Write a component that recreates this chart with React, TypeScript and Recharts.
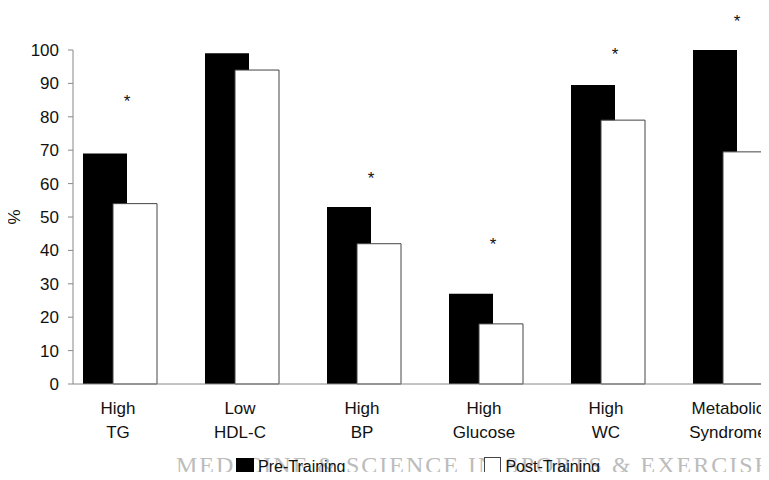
import React from 'react';
import { BarChart, Bar, XAxis, YAxis, LabelList } from 'recharts';

const categories = ['High\nTG', 'Low\nHDL-C', 'High\nBP', 'High\nGlucose', 'High\nWC', 'Metabolic\nSyndrome'];
const preTraining = [69, 99, 53, 27, 89.5, 100];
const postTraining = [54, 94, 42, 18, 79, 69.5];
// height of the significance asterisk (in %), null where there is none
const asterisk = [86, null, 63, 43, 100, 110];
const yTicks = [0, 10, 20, 30, 40, 50, 60, 70, 80, 90, 100];

const rows = categories.map((c, i) => ({
  name: c,
  pre: preTraining[i],
  post: postTraining[i],
  star: asterisk[i],
}));

const FONT = '"Liberation Sans", Arial, sans-serif';

function CatTick({ x, y, payload }: any) {
  const lines = String(payload.value).split('\n');
  return (
    <text x={x} y={y} textAnchor="middle" fontFamily={FONT} fontSize={17} fill="#111">
      {lines.map((l, i) => (
        <tspan key={i} x={x - 2} dy={i === 0 ? 22 : 24}>{l}</tspan>
      ))}
    </text>
  );
}

// asterisk placed above the pre-training bar, using that bar's own scale
function Star(props: any) {
  const { value, index } = props;
  const vb = props.viewBox || props;
  if (value == null) return null;
  const bottom = vb.y + vb.height;
  const pxPerUnit = vb.height / preTraining[index];
  const cy = bottom - value * pxPerUnit;
  return (
    <text x={vb.x + vb.width} y={cy + 10} textAnchor="middle" fontFamily={FONT} fontSize={17} fill="#111">*</text>
  );
}

export default function App() {
  return (
    <div style={{ margin: -8, width: 769, height: 480, overflow: 'hidden', background: '#fff', position: 'relative' }}>
      <div style={{
        position: 'absolute', left: 176, top: 453, whiteSpace: 'nowrap', lineHeight: '24px',
        fontFamily: '"Liberation Serif", "DejaVu Serif", serif', fontSize: 24, color: '#bcbcbc', letterSpacing: 2,
      }}>
        MEDICINE &amp; SCIENCE IN SPORTS &amp; EXERCISE
      </div>
      <BarChart
        width={820}
        height={480}
        data={rows}
        margin={{ top: 50, right: 15, bottom: 0, left: 0 }}
        barGap={-14}
        style={{ position: 'absolute', left: 0, top: 0 }}
      >
        <XAxis
          dataKey="name"
          height={96}
          tick={<CatTick />}
          tickLine={false}
          axisLine={{ stroke: '#888' }}
          interval={0}
          padding={{ left: -14, right: 14 }}
        />
        <YAxis
          domain={[0, 100]}
          ticks={yTicks}
          width={73}
          tickSize={5}
          tickMargin={9}
          tickLine={{ stroke: '#888' }}
          axisLine={{ stroke: '#888' }}
          tick={{ fontFamily: FONT, fontSize: 17, fill: '#111' }}
          label={{
            content: ({ viewBox }: any) => (
              <text
                x={viewBox.x + 14}
                y={viewBox.y + viewBox.height / 2}
                transform={`rotate(-90 ${viewBox.x + 14} ${viewBox.y + viewBox.height / 2})`}
                textAnchor="middle"
                dominantBaseline="central"
                fontFamily={FONT}
                fontSize={17}
                fill="#111"
              >%</text>
            ),
          }}
        />
        <Bar dataKey="pre" name="Pre-Training" fill="#000" barSize={44} isAnimationActive={false}>
          <LabelList dataKey="star" content={<Star />} />
        </Bar>
        <Bar dataKey="post" name="Post-Training" fill="#fff" stroke="#444" strokeWidth={1} barSize={44} isAnimationActive={false} />
      </BarChart>
      <div style={{
        position: 'absolute', left: 236, top: 457, display: 'flex', alignItems: 'center',
        fontFamily: FONT, fontSize: 16, color: '#111', lineHeight: '18px',
      }}>
        <span style={{ width: 18, height: 18, background: '#000', display: 'inline-block', marginRight: 4 }} />
        <span>Pre-Training</span>
        <span style={{ width: 15, height: 17, background: '#fff', border: '1px solid #444', display: 'inline-block', marginLeft: 139, marginRight: 4 }} />
        <span>Post-Training</span>
      </div>
    </div>
  );
}
